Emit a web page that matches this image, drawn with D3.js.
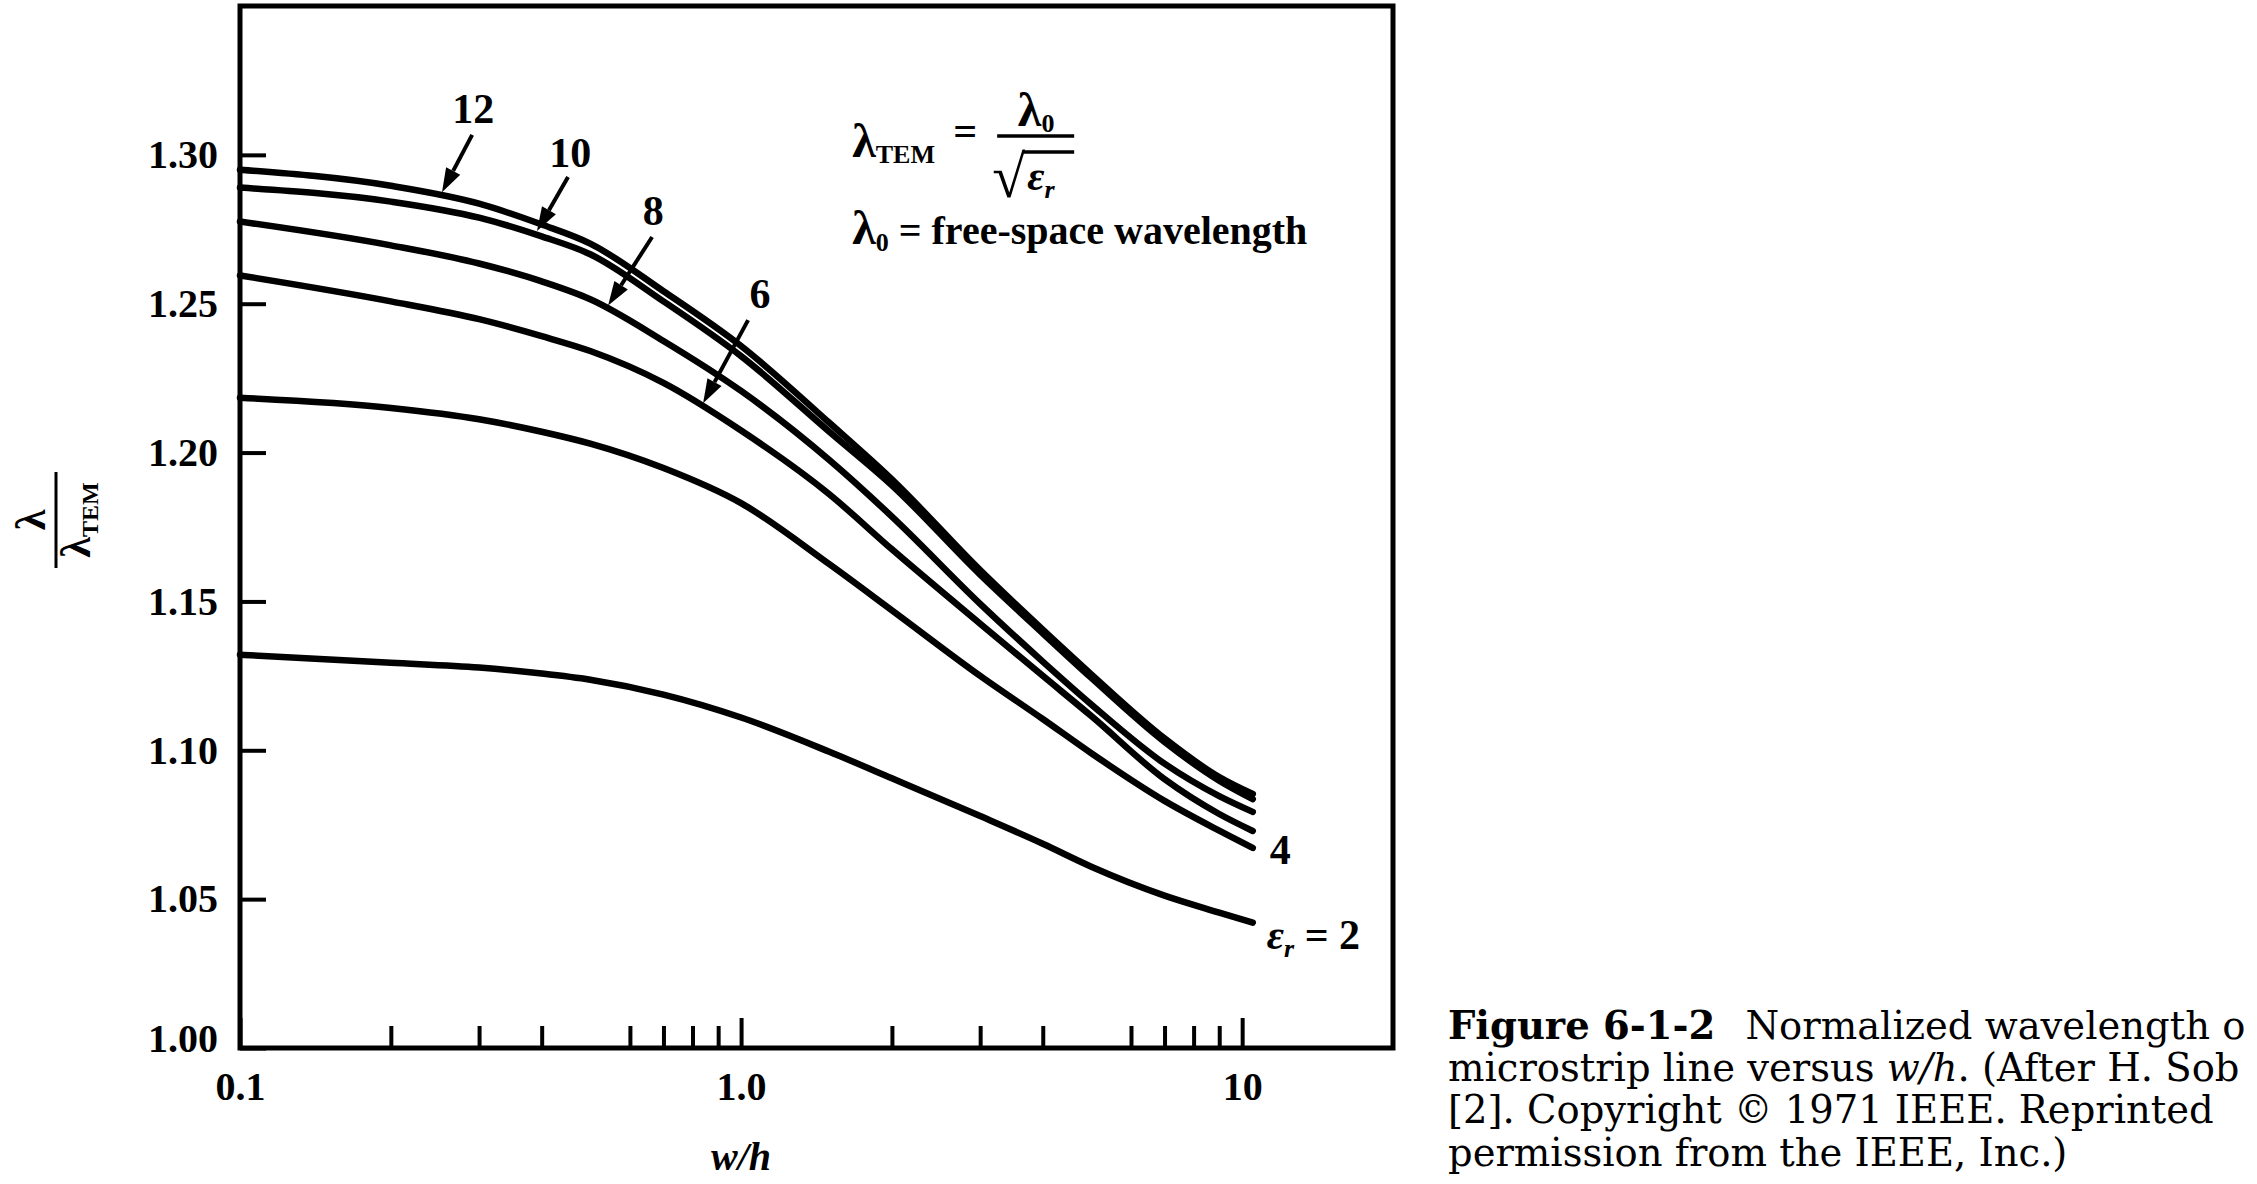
<!DOCTYPE html>
<html>
<head>
<meta charset="utf-8">
<script src="https://cdn.jsdelivr.net/npm/d3@7"></script>
<style>
  html, body { margin: 0; padding: 0; background: #fff; }
  svg { display: block; }
</style>
</head>
<body>
<svg id="chart" width="2257" height="1184"></svg>
<script>
// ---------------- data ----------------
const wOverH = [0.1, 0.2, 0.3, 0.4, 0.5, 0.7, 1.0, 1.5, 2, 3, 4, 5, 7, 9, 10.5];
const er12 = [1.2950, 1.2896, 1.2836, 1.2766, 1.2702, 1.2542, 1.2358, 1.2100, 1.1910, 1.1605, 1.1405, 1.1255, 1.1040, 1.0910, 1.0853];
const er10 = [1.2890, 1.2843, 1.2789, 1.2726, 1.2666, 1.2508, 1.2324, 1.2070, 1.1890, 1.1590, 1.1393, 1.1243, 1.1028, 1.0898, 1.0836];
const er8  = [1.2776, 1.2696, 1.2635, 1.2575, 1.2515, 1.2375, 1.2207, 1.1975, 1.1785, 1.1492, 1.1298, 1.1154, 1.0955, 1.0846, 1.0793];
const er6  = [1.2595, 1.2508, 1.2448, 1.2391, 1.2341, 1.2234, 1.2074, 1.1860, 1.1675, 1.1425, 1.1250, 1.1115, 1.0903, 1.0786, 1.0729];
const er4  = [1.2184, 1.2150, 1.2112, 1.2070, 1.2030, 1.1948, 1.1830, 1.1625, 1.1470, 1.1250, 1.1105, 1.0990, 1.0830, 1.0730, 1.0672];
const er2  = [1.1321, 1.1294, 1.1278, 1.1258, 1.1237, 1.1187, 1.1110, 1.0995, 1.0906, 1.0779, 1.0686, 1.0609, 1.0512, 1.0455, 1.0421];
const seriesNames = ["12", "10", "8", "6", "4", "2"];

const yTickValues = [1.00, 1.05, 1.10, 1.15, 1.20, 1.25, 1.30];
const yTickLabels = ["1.00", "1.05", "1.10", "1.15", "1.20", "1.25", "1.30"];
const xMajorTicks = [0.1, 1, 10];
const xTickLabels = ["0.1", "1.0", "10"];
const xMinorTicks = [0.2, 0.3, 0.4, 0.6, 0.7, 0.8, 0.9, 2, 3, 4, 6, 7, 8, 9];

// arrow-labelled curves (label, label anchor [w/h, value], arrow start, arrow tip w/h)
const arrowNames = ["12", "10", "8", "6"];
const arrowLabelAt = [[0.292, 1.3157], [0.456, 1.3010], [0.668, 1.2815], [1.091, 1.2536]];
const arrowStartAt = [[0.2906, 1.3067], [0.4515, 1.2926], [0.6644, 1.2724], [1.0327, 1.2445]];
const arrowTipW = [0.253, 0.3915, 0.5428, 0.8398];

// caption lines as printed (the page crops them at its right edge)
const captionLine1Bold = "Figure 6-1-2";
const captionLine1 = "Normalized wavelength o";
const captionLine2a = "microstrip line versus ";
const captionLine2b = "w/h";
const captionLine2c = ". (After H. Sob";
const captionLine3 = "[2]. Copyright © 1971 IEEE. Reprinted";
const captionLine4 = "permission from the IEEE, Inc.)";

// ---------------- drawing ----------------
const svg = d3.select("#chart");
const serif = "'Liberation Serif', 'Times New Roman', serif";
const x = d3.scaleLog().domain([0.1, 20]).range([240, 1393]);
const y = d3.scaleLinear().domain([1.0, 1.35]).range([1048, 6]);

svg.append("rect").attr("width", 2257).attr("height", 1184).attr("fill", "#fff");

// curves
const seriesVals = [er12, er10, er8, er6, er4, er2];
const series = seriesNames.map((n, i) => ({ name: n, values: seriesVals[i] }));
const line = d3.line().x(d => x(d[0])).y(d => y(d[1])).curve(d3.curveMonotoneX);
svg.append("g").selectAll("path").data(series).join("path")
  .attr("d", s => line(wOverH.map((w, i) => [w, s.values[i]])))
  .attr("fill", "none").attr("stroke", "#000").attr("stroke-width", 6.5)
  .attr("stroke-linecap", "round").attr("stroke-linejoin", "round");

// frame
svg.append("rect")
  .attr("x", x(0.1)).attr("y", y(1.35))
  .attr("width", x(20) - x(0.1)).attr("height", y(1.0) - y(1.35))
  .attr("fill", "none").attr("stroke", "#000").attr("stroke-width", 5);

// y axis
const gy = svg.append("g").attr("transform", `translate(${x(0.1)},0)`)
  .call(d3.axisLeft(y).tickValues(yTickValues).tickSize(-26).tickPadding(22)
    .tickFormat((d, i) => yTickLabels[i]));
gy.select(".domain").remove();
gy.selectAll(".tick line").attr("stroke", "#000").attr("stroke-width", 4);
gy.selectAll(".tick text").attr("font-family", serif).attr("font-weight", "bold")
  .attr("font-size", 40).attr("fill", "#000");
gy.selectAll(".tick").filter(d => d === 1).select("text").attr("dy", "0.08em");

// x axis: minor ticks
const gxm = svg.append("g").attr("transform", `translate(0,${y(1.0)})`)
  .call(d3.axisBottom(x).tickValues(xMinorTicks).tickSize(-22).tickFormat(() => ""));
gxm.select(".domain").remove();
gxm.selectAll(".tick line").attr("stroke", "#000").attr("stroke-width", 4);
// x axis: major ticks + labels
const gx = svg.append("g").attr("transform", `translate(0,${y(1.0)})`)
  .call(d3.axisBottom(x).tickValues(xMajorTicks).tickSize(-30).tickPadding(24)
    .tickFormat((d, i) => xTickLabels[i]));
gx.select(".domain").remove();
gx.selectAll(".tick line").attr("stroke", "#000").attr("stroke-width", 4);
gx.selectAll(".tick text").attr("font-family", serif).attr("font-weight", "bold")
  .attr("font-size", 40).attr("fill", "#000");

// x axis title
svg.append("text").attr("x", x(1)).attr("y", 1170).attr("text-anchor", "middle")
  .attr("font-family", serif).attr("font-weight", "bold").attr("font-style", "italic")
  .attr("font-size", 40).text("w/h");

// y axis title (fraction, rotated)
const yt = svg.append("g").attr("transform", "translate(56,520) rotate(-90)")
  .attr("font-family", serif).attr("font-weight", "bold");
yt.append("text").attr("x", 0).attr("y", -11).attr("text-anchor", "middle").attr("font-size", 42).text("λ");
yt.append("line").attr("x1", -48).attr("x2", 48).attr("y1", 0).attr("y2", 0)
  .attr("stroke", "#000").attr("stroke-width", 3);
const ytd = yt.append("text").attr("x", 0).attr("y", 34).attr("text-anchor", "middle");
ytd.append("tspan").attr("font-size", 42).text("λ");
ytd.append("tspan").attr("font-size", 24).attr("dy", 8).text("TEM");

// curve value lookup (linear in log w/h between read points)
function valueAt(vals, w) {
  const lw = Math.log10(w);
  for (let i = 0; i < wOverH.length - 1; i++) {
    const a = Math.log10(wOverH[i]), b = Math.log10(wOverH[i + 1]);
    if (lw >= a && lw <= b) return vals[i] + (vals[i + 1] - vals[i]) * (lw - a) / (b - a);
  }
  return vals[vals.length - 1];
}

// arrow labels
const ann = svg.append("g").attr("font-family", serif).attr("font-weight", "bold");
arrowNames.forEach((n, i) => {
  const vals = seriesVals[seriesNames.indexOf(n)];
  ann.append("text").attr("x", x(arrowLabelAt[i][0])).attr("y", y(arrowLabelAt[i][1]))
    .attr("dy", "0.35em").attr("text-anchor", "middle").attr("font-size", 42).text(n);
  const sx = x(arrowStartAt[i][0]), sy = y(arrowStartAt[i][1]);
  const tx = x(arrowTipW[i]), ty = y(valueAt(vals, arrowTipW[i])) - 4;
  const ang = Math.atan2(ty - sy, tx - sx);
  const L = 24, W = 8;
  const bx = tx - L * Math.cos(ang), by = ty - L * Math.sin(ang);
  ann.append("line").attr("x1", sx).attr("y1", sy).attr("x2", bx).attr("y2", by)
    .attr("stroke", "#000").attr("stroke-width", 4);
  const px = -Math.sin(ang) * W, py = Math.cos(ang) * W;
  ann.append("path").attr("d", `M${tx},${ty}L${bx + px},${by + py}L${bx - px},${by - py}Z`).attr("fill", "#000");
});

// end labels for 4 and 2
const end4 = [wOverH[wOverH.length - 1], er4[er4.length - 1]];
ann.append("text").attr("x", x(end4[0]) + 17).attr("y", y(end4[1]) + 16)
  .attr("font-size", 42).text("4");
const end2 = [wOverH[wOverH.length - 1], er2[er2.length - 1]];
const t2 = ann.append("text").attr("x", x(end2[0]) + 14).attr("y", y(end2[1]) + 26).attr("font-size", 42);
t2.append("tspan").attr("font-style", "italic").text("ε");
t2.append("tspan").attr("font-style", "italic").attr("font-size", 26).attr("dy", 8).text("r");
t2.append("tspan").attr("dy", -8).text(" = 2");

// formula annotation
const fa = svg.append("g").attr("transform", `translate(${x(1.666)},${y(1.2993)})`)
  .attr("font-family", serif).attr("font-weight", "bold");
const f1 = fa.append("text").attr("x", 0).attr("y", 0);
f1.append("tspan").attr("font-size", 48).text("λ");
f1.append("tspan").attr("font-size", 26).attr("dy", 6).text("TEM");
fa.append("text").attr("x", 101).attr("y", -12).attr("font-size", 42).text("=");
const fn = fa.append("text").attr("x", 184).attr("y", -31).attr("text-anchor", "middle");
fn.append("tspan").attr("font-size", 48).text("λ");
fn.append("tspan").attr("font-size", 26).attr("dy", 6).text("0");
fa.append("line").attr("x1", 145).attr("x2", 222).attr("y1", -21).attr("y2", -21)
  .attr("stroke", "#000").attr("stroke-width", 3.5);
const rad = fa.append("text").attr("x", 140).attr("y", 40).attr("font-size", 60)
  .attr("font-weight", "normal").text("√");
const rb = rad.node().getBBox();
fa.append("line").attr("x1", rb.x + rb.width - 3).attr("x2", 222)
  .attr("y1", rb.y + 8).attr("y2", rb.y + 8)
  .attr("stroke", "#000").attr("stroke-width", 3.5);
const fd = fa.append("text").attr("x", rb.x + rb.width + 2).attr("y", 33);
fd.append("tspan").attr("font-size", 42).attr("font-style", "italic").text("ε");
fd.append("tspan").attr("font-size", 26).attr("font-style", "italic").attr("dy", 8).text("r");
const f2 = fa.append("text").attr("x", 0).attr("y", 87);
f2.append("tspan").attr("font-size", 48).text("λ");
f2.append("tspan").attr("font-size", 26).attr("dy", 7).text("0");
f2.append("tspan").attr("font-size", 40).attr("dy", -7).text(" = free-space wavelength");

// caption
const cap = svg.append("g").attr("font-family", "'DejaVu Serif', serif").attr("font-size", 38.5).attr("fill", "#000");
const c1 = cap.append("text").attr("x", 1448).attr("y", 1039);
c1.append("tspan").attr("font-weight", "bold").text(captionLine1Bold);
c1.append("tspan").attr("dx", 30).text(captionLine1);
const c2 = cap.append("text").attr("x", 1448).attr("y", 1081);
c2.append("tspan").text(captionLine2a);
c2.append("tspan").attr("font-style", "italic").text(captionLine2b);
c2.append("tspan").text(captionLine2c);
cap.append("text").attr("x", 1448).attr("y", 1123).text(captionLine3);
cap.append("text").attr("x", 1448).attr("y", 1166).text(captionLine4);
</script>
</body>
</html>
